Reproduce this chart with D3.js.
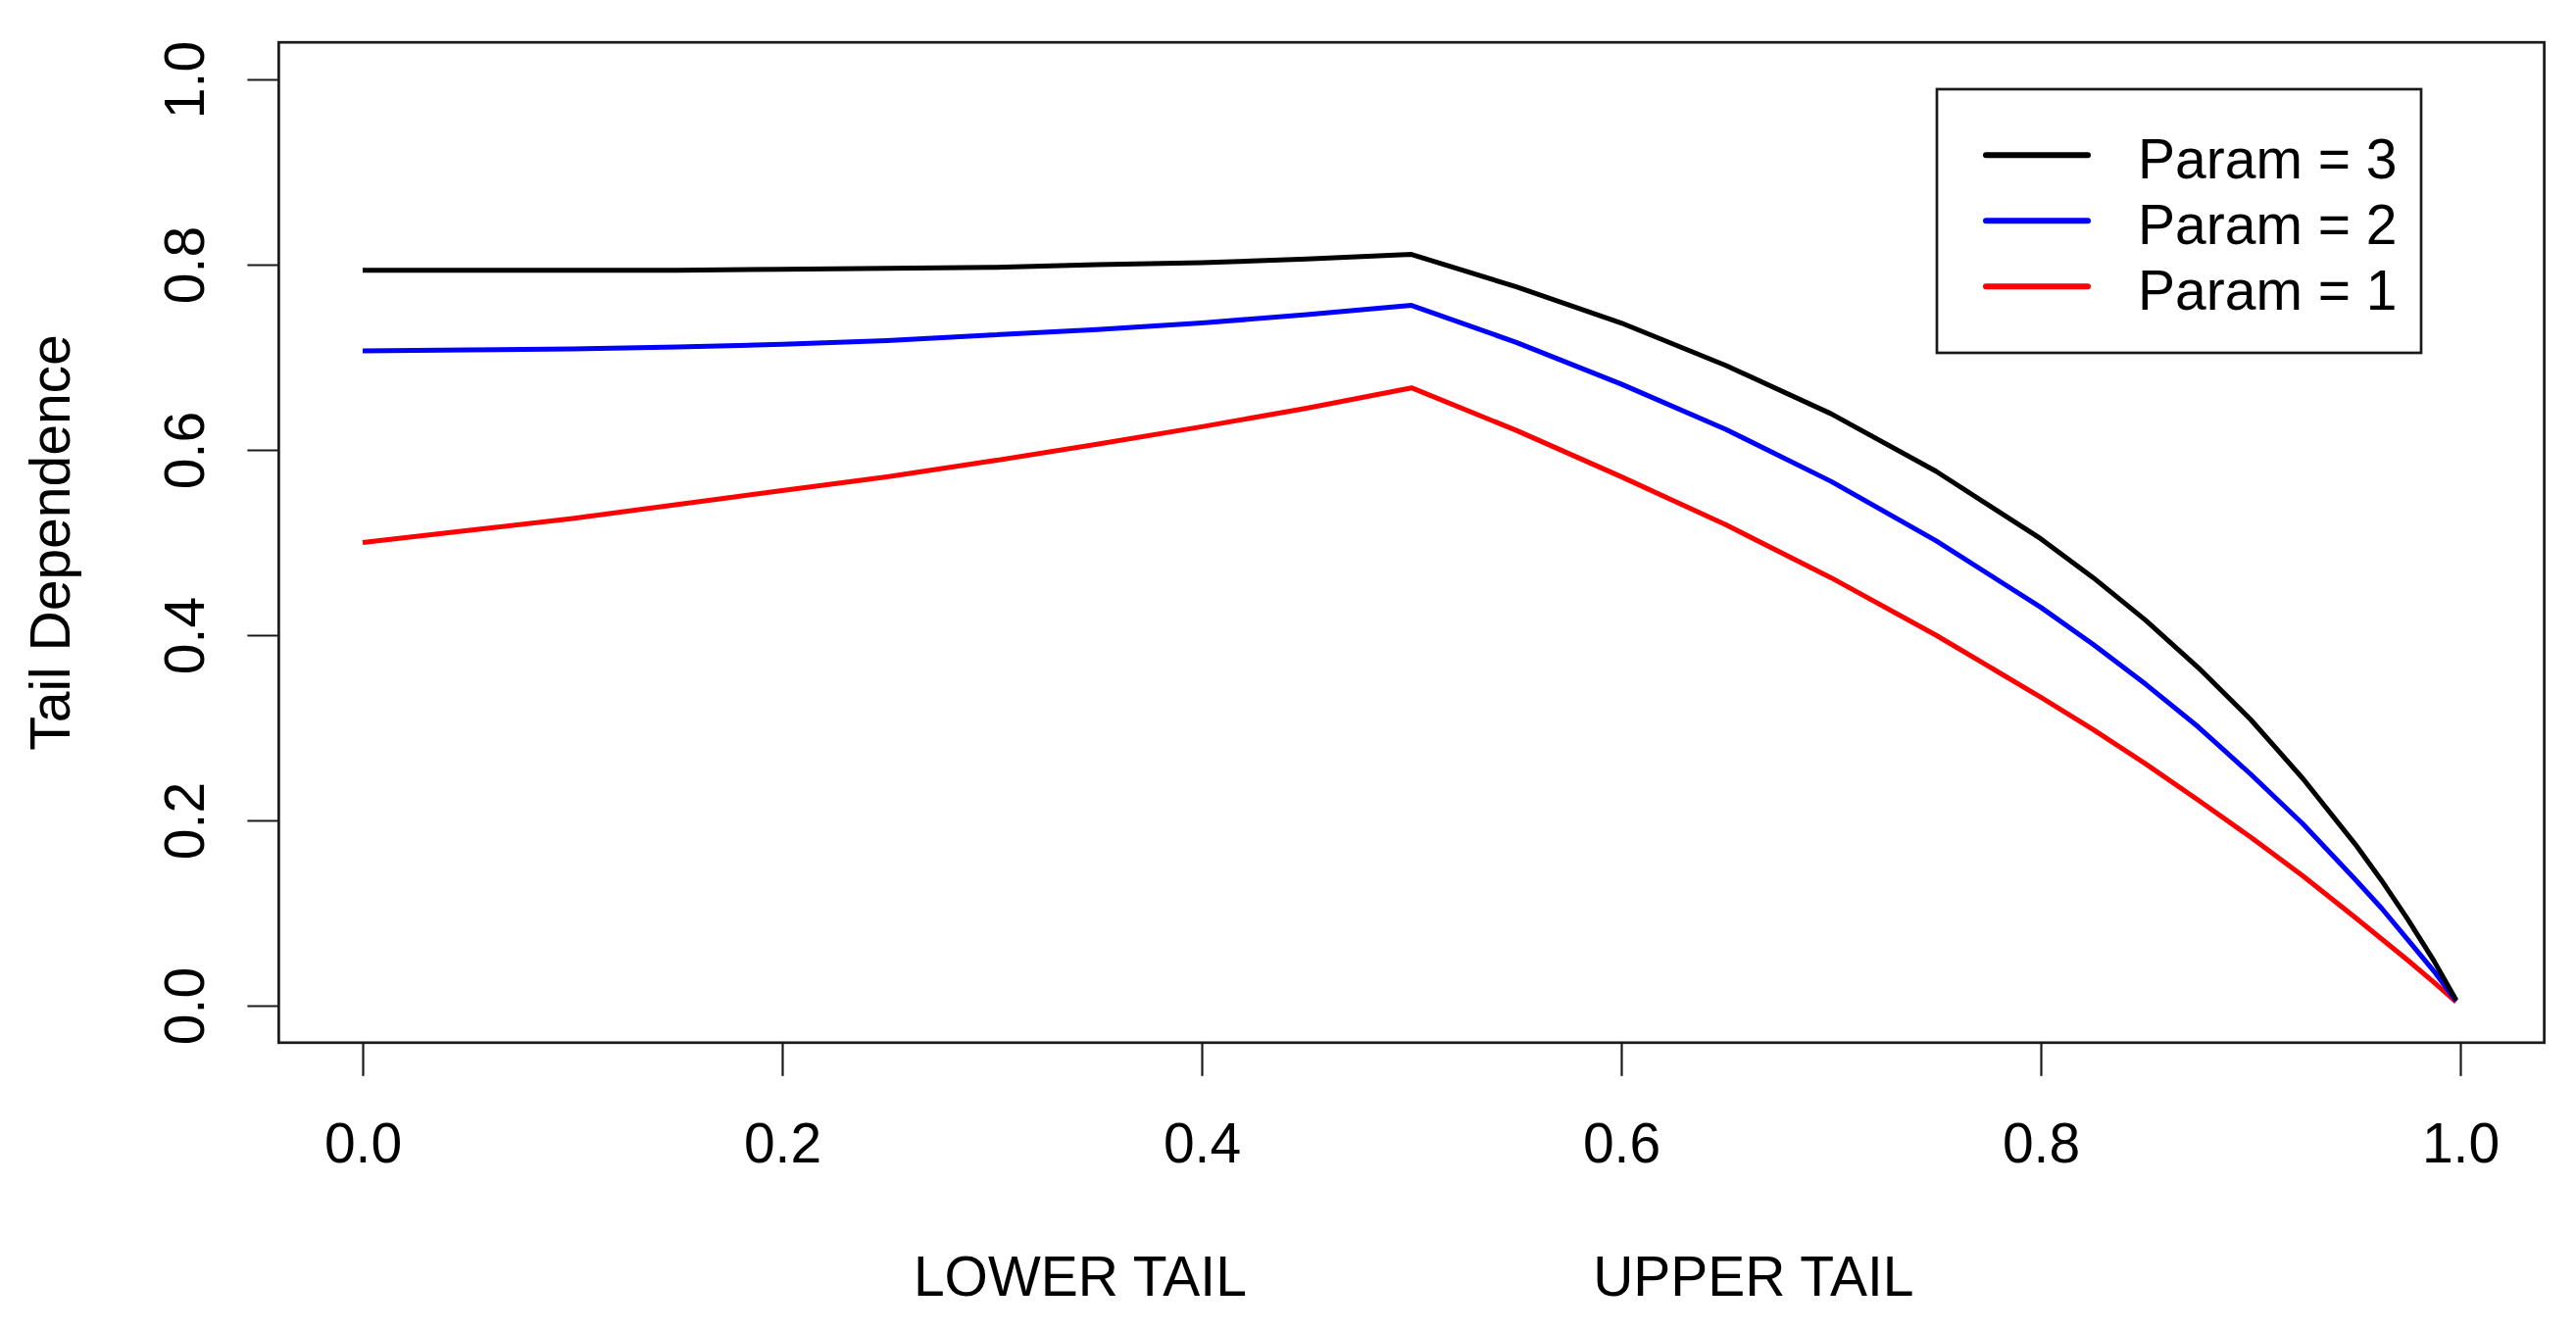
<!DOCTYPE html>
<html>
<head>
<meta charset="utf-8">
<script src="https://cdn.jsdelivr.net/npm/d3@7"></script>
<style>
  html, body { margin: 0; padding: 0; background: #fff; }
  svg { display: block; }
  text { font-family: "Liberation Sans", Arial, sans-serif; fill: #000; }
</style>
</head>
<body>
<svg id="chart" width="2628" height="1360"></svg>
<script>
// ---- data ----
const xValues = [0, 0.05, 0.1, 0.15, 0.2, 0.25, 0.3, 0.35, 0.4, 0.45, 0.5,
  0.55, 0.6, 0.65, 0.7, 0.75, 0.8, 0.825, 0.85, 0.875, 0.9, 0.925, 0.95, 0.9625, 0.975, 0.9875, 0.998];
const param1 = [0.500, 0.513, 0.526, 0.541, 0.556, 0.571, 0.588, 0.606, 0.625, 0.645, 0.667,
  0.621, 0.571, 0.519, 0.462, 0.400, 0.333, 0.298, 0.261, 0.222, 0.182, 0.140, 0.095, 0.072, 0.049, 0.025, 0.004];
const param2 = [0.707, 0.708, 0.709, 0.711, 0.714, 0.718, 0.724, 0.730, 0.737, 0.746, 0.756,
  0.716, 0.671, 0.622, 0.566, 0.502, 0.430, 0.390, 0.347, 0.301, 0.250, 0.196, 0.136, 0.105, 0.071, 0.037, 0.005];
const param3 = [0.794, 0.794, 0.794, 0.794, 0.795, 0.796, 0.797, 0.800, 0.802, 0.806, 0.811,
  0.776, 0.737, 0.691, 0.639, 0.577, 0.504, 0.462, 0.416, 0.365, 0.309, 0.245, 0.174, 0.135, 0.093, 0.048, 0.006];
const xTicks = [0, 0.2, 0.4, 0.6, 0.8, 1.0];
const yTicks = [0, 0.2, 0.4, 0.6, 0.8, 1.0];
const legendLabels = ["Param = 3", "Param = 2", "Param = 1"];
const seriesColors = ["#000000", "#0000FF", "#FF0000"];
const xTitles = [{ label: "LOWER TAIL", pos: 0.342 }, { label: "UPPER TAIL", pos: 0.663 }];
const yTitle = "Tail Dependence";

// ---- layout ----
const svg = d3.select("#chart");
const x = d3.scaleLinear().domain([0, 1]).range([370, 2510]);
const y = d3.scaleLinear().domain([0, 1]).range([1026, 81]);
const pad = 0.04;
const boxL = x(-pad), boxR = x(1 + pad), boxT = y(1 + pad), boxB = y(-pad);
const FS = 57;
const axisColor = "#1a1a1a";

// lines (drawn param 1 first so param 3 is on top)
const line = d3.line().x(d => x(d[0])).y(d => y(d[1]));
const seriesOrder = [
  { vals: param1, color: seriesColors[2] },
  { vals: param2, color: seriesColors[1] },
  { vals: param3, color: seriesColors[0] }
];
seriesOrder.forEach(s => {
  svg.append("path")
    .datum(xValues.map((xv, i) => [xv, s.vals[i]]))
    .attr("d", line)
    .attr("fill", "none")
    .attr("stroke", s.color)
    .attr("stroke-width", 5)
    .attr("stroke-linejoin", "round");
});

// box
svg.append("rect")
  .attr("x", boxL).attr("y", boxT)
  .attr("width", boxR - boxL).attr("height", boxB - boxT)
  .attr("fill", "none").attr("stroke", axisColor).attr("stroke-width", 2.7);

// x axis
const xAxis = svg.append("g")
  .attr("transform", `translate(0,${boxB})`)
  .call(d3.axisBottom(x).tickValues(xTicks).tickSize(34).tickFormat(d3.format(".1f")));
xAxis.select(".domain").remove();
xAxis.selectAll(".tick line").attr("stroke", axisColor).attr("stroke-width", 2.2);
xAxis.selectAll(".tick text")
  .attr("y", 1185.7 - boxB).attr("dy", null)
  .style("font-size", FS + "px")
  .style("font-family", '"Liberation Sans", Arial, sans-serif')
  .attr("fill", "#000");

// y axis
const yAxis = svg.append("g")
  .attr("transform", `translate(${boxL},0)`)
  .call(d3.axisLeft(y).tickValues(yTicks).tickSize(32).tickFormat(d3.format(".1f")));
yAxis.select(".domain").remove();
yAxis.selectAll(".tick line").attr("stroke", axisColor).attr("stroke-width", 2.2);
yAxis.selectAll(".tick text")
  .attr("x", null).attr("dy", null)
  .attr("text-anchor", "middle")
  .attr("transform", `translate(${207.5 - boxL},0) rotate(-90)`)
  .style("font-size", FS + "px")
  .style("font-family", '"Liberation Sans", Arial, sans-serif')
  .attr("fill", "#000");

// axis titles
svg.append("text")
  .attr("transform", `translate(71,${(y(0) + y(1)) / 2}) rotate(-90)`)
  .attr("text-anchor", "middle")
  .style("font-size", FS + "px")
  .text(yTitle);

xTitles.forEach(t => {
  svg.append("text")
    .attr("x", x(t.pos)).attr("y", 1321.7)
    .attr("text-anchor", "middle")
    .style("font-size", FS + "px")
    .text(t.label);
});

// legend
const lg = svg.append("g");
lg.append("rect")
  .attr("x", 1976).attr("y", 91)
  .attr("width", 2470 - 1976).attr("height", 360 - 91)
  .attr("fill", "#fff").attr("stroke", axisColor).attr("stroke-width", 2.7);
legendLabels.forEach((lab, i) => {
  const ly = 158.3 + i * 67;
  lg.append("line")
    .attr("x1", 2026).attr("x2", 2130)
    .attr("y1", ly).attr("y2", ly)
    .attr("stroke", seriesColors[i]).attr("stroke-width", 6)
    .attr("stroke-linecap", "round");
  lg.append("text")
    .attr("x", 2181).attr("y", ly + 23.4)
    .style("font-size", FS + "px")
    .text(lab);
});
</script>
</body>
</html>
